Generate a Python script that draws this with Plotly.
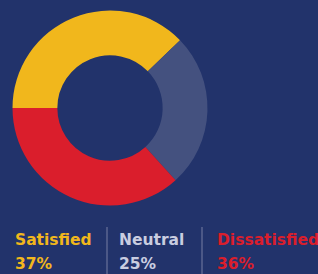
import plotly.graph_objects as go

categories = ["Satisfied", "Neutral", "Dissatisfied"]
values = [37, 25, 36]
slice_colors = ["#F1B71C", "#44517F", "#DA1E2C"]
text_colors = ["#F1B71C", "#C9CDE0", "#DA1E2C"]

W, H = 318, 274
BG = "#22336B"

fig = go.Figure()
fig.add_trace(go.Pie(
    labels=categories,
    values=values,
    marker=dict(colors=slice_colors, line=dict(width=0)),
    hole=0.54,
    sort=False,
    direction="clockwise",
    rotation=270,
    textinfo="none",
    hoverinfo="skip",
    showlegend=False,
    domain=dict(x=[12.5 / W, 207.5 / W], y=[(H - 205.5) / H, (H - 10.5) / H]),
))

label_x = [13, 117, 215]
sep_x = [107, 202]
font_family = "'DejaVu Sans', sans-serif"
for i, (cat, val) in enumerate(zip(categories, values)):
    fig.add_annotation(x=label_x[i] / W, y=(H - 239.5) / H, xref="paper", yref="paper",
                       xanchor="left", yanchor="middle", showarrow=False,
                       text=f"<b>{cat}</b>", font=dict(family=font_family, size=15.5, color=text_colors[i]))
    fig.add_annotation(x=label_x[i] / W, y=(H - 264) / H, xref="paper", yref="paper",
                       xanchor="left", yanchor="middle", showarrow=False,
                       text=f"<b>{val}%</b>", font=dict(family=font_family, size=15.5, color=text_colors[i]))

for sx in sep_x:
    fig.add_shape(type="line", xref="paper", yref="paper",
                  x0=sx / W, x1=sx / W, y0=(H - 227) / H, y1=0,
                  line=dict(color="#5B6690", width=1.5))

fig.update_layout(
    width=W, height=H,
    margin=dict(l=0, r=0, t=0, b=0),
    paper_bgcolor=BG, plot_bgcolor=BG,
)
fig.write_html("out.html", config={"displayModeBar": False, "staticPlot": True},
               post_script="document.body.style.margin='0';document.body.style.padding='0';document.body.style.background='#22336B';")
